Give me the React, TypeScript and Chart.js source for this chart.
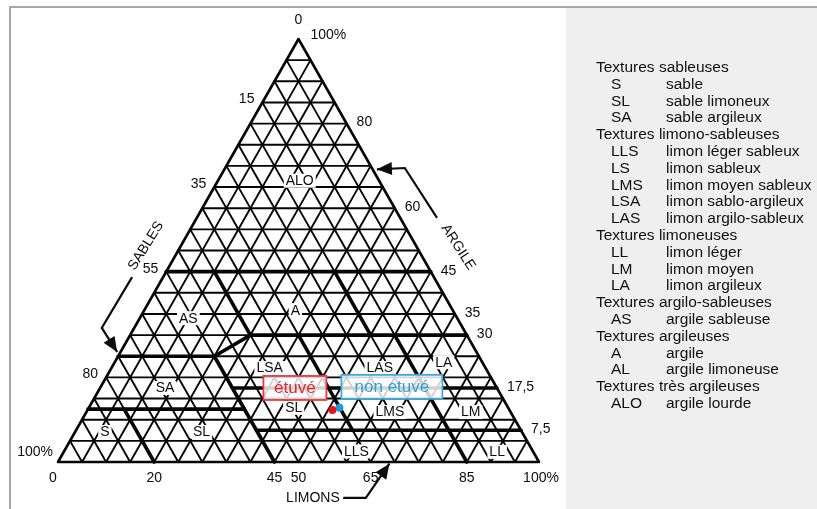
import React, { useEffect, useRef } from 'react';
import { Chart, registerables } from 'chart.js';

Chart.register(...registerables);

// ---- grid / axes ----
const GRID_STEPS = [5, 10, 15, 20, 25, 30, 35, 40, 45, 50, 55, 60, 65, 70, 75, 80, 85, 90, 95];

const SABLES_TICKS = [15, 35, 55, 80, 100];
const SABLES_TICK_LABELS = ['15', '35', '55', '80', '100%'];
const ARGILE_TICKS = [80, 60, 45, 35, 30, 17.5, 7.5];
const ARGILE_TICK_LABELS = ['80', '60', '45', '35', '30', '17,5', '7,5'];
const LIMONS_TICKS = [0, 20, 45, 50, 65, 85, 100];
const LIMONS_TICK_LABELS = ['0', '20', '45', '50', '65', '85', '100%'];

// ---- texture zones (label anchors in % sable / % argile) ----
const ZONE_CODES = ['ALO', 'AS', 'A', 'LSA', 'LAS', 'LA', 'SA', 'SL', 'LMS', 'LM', 'S', 'SL', 'LLS', 'LL'];
const ZONE_SABLE = [16.5, 55.9, 32.7, 44.9, 22, 8, 69, 44.6, 25.1, 8.3, 86.7, 66.6, 36.7, 7.5];
const ZONE_ARGILE = [66.5, 34, 35.9, 22.2, 22.2, 23.6, 17.5, 12.8, 11.8, 11.8, 7.1, 7.1, 2.5, 2.4];

// ---- zone boundaries (polylines in % sable / % argile) ----
const BOUNDARY_SABLE = [
  [55, 0], [45, 0], [75, 55, 45], [45, 45], [20, 20], [55, 55], [80, 80],
  [87.5, 55], [55, 0], [55, 0], [35, 35], [15, 15],
];
const BOUNDARY_ARGILE = [
  [45, 45], [30, 30], [25, 25, 30], [30, 45], [30, 45], [0, 25], [0, 12.5],
  [12.5, 12.5], [17.5, 17.5], [7.5, 7.5], [7.5, 30], [0, 30],
];

// ---- samples ----
const SAMPLE_NAMES = ['étuvé', 'non etuvé'];
const SAMPLE_SABLE = [36.8, 35.1];
const SAMPLE_ARGILE = [12.3, 12.8];
const SAMPLE_COLORS = ['#e8141c', '#1b9ad6'];

// ---- legend panel ----
const LEGEND_GROUPS = [
  'Textures sableuses',
  'Textures limono-sableuses',
  'Textures limoneuses',
  'Textures argilo-sableuses',
  'Textures argileuses',
  'Textures très argileuses',
];
const LEGEND_CODES = [
  ['S', 'SL', 'SA'],
  ['LLS', 'LS', 'LMS', 'LSA', 'LAS'],
  ['LL', 'LM', 'LA'],
  ['AS'],
  ['A', 'AL'],
  ['ALO'],
];
const LEGEND_NAMES = [
  ['sable', 'sable limoneux', 'sable argileux'],
  ['limon léger sableux', 'limon sableux', 'limon moyen sableux', 'limon sablo-argileux', 'limon argilo-sableux'],
  ['limon léger', 'limon moyen', 'limon argileux'],
  ['argile sableuse'],
  ['argile', 'argile limoneuse'],
  ['argile lourde'],
];

const FONT = '"Liberation Sans", Arial, Helvetica, sans-serif';

// ternary -> cartesian (x = limon + argile/2, y = argile)
const toXY = (s: number, c: number) => ({ x: 100 - s - c / 2, y: c });

export default function App() {
  const ref = useRef<HTMLCanvasElement>(null);

  useEffect(() => {
    const canvas = ref.current;
    if (!canvas) return;

    const seg = (pts: { x: number; y: number }[], w: number, order: number) => ({
      data: pts,
      showLine: true,
      borderColor: '#050505',
      borderWidth: w,
      pointRadius: 0,
      pointHoverRadius: 0,
      fill: false,
      order,
      clip: false,
      borderCapStyle: 'round',
      borderJoinStyle: 'round',
    });

    const datasets: any[] = [];
    SAMPLE_NAMES.forEach((name, i) => {
      datasets.push({
        label: name,
        data: [toXY(SAMPLE_SABLE[i], SAMPLE_ARGILE[i])],
        showLine: false,
        pointRadius: 4,
        pointBackgroundColor: SAMPLE_COLORS[i],
        pointBorderColor: SAMPLE_COLORS[i],
        pointBorderWidth: 0,
        order: 0,
        clip: false,
      });
    });
    BOUNDARY_SABLE.forEach((ss, i) => {
      datasets.push(seg(ss.map((s, j) => toXY(s, BOUNDARY_ARGILE[i][j])), 3.6, 1));
    });
    datasets.push(seg([toXY(100, 0), toXY(0, 0), toXY(0, 100), toXY(100, 0)], 2.6, 2));
    GRID_STEPS.forEach((k) => {
      datasets.push(seg([toXY(100 - k, k), toXY(0, k)], 1.9, 3));
      datasets.push(seg([toXY(k, 0), toXY(k, 100 - k)], 1.9, 3));
      datasets.push(seg([toXY(100 - k, 0), toXY(0, 100 - k)], 1.9, 3));
    });

    const decor = {
      id: 'decor',
      afterDatasetsDraw(chart: any) {
        const { ctx } = chart;
        const xs = chart.scales.x;
        const ys = chart.scales.y;
        const P = (X: number, c: number) => [xs.getPixelForValue(X), ys.getPixelForValue(c)];
        const Ps = (s: number, c: number) => {
          const q = toXY(s, c);
          return P(q.x, q.y);
        };
        ctx.save();
        ctx.fillStyle = '#0c0c0c';
        ctx.textBaseline = 'middle';

        // tick labels
        ctx.font = `14px ${FONT}`;
        const apex = P(50, 100);
        ctx.textAlign = 'center';
        ctx.fillText('0', apex[0] + 0, apex[1] - 19);
        ctx.textAlign = 'left';
        ctx.fillText('100%', apex[0] + 12, apex[1] - 4);

        ctx.textAlign = 'right';
        SABLES_TICKS.forEach((s, i) => {
          const p = P((100 - s) / 2, 100 - s);
          const last = i === SABLES_TICKS.length - 1;
          ctx.fillText(SABLES_TICK_LABELS[i], p[0] - (last ? 5 : 8), p[1] - (last ? 10 : 3));
        });
        ctx.textAlign = 'left';
        ARGILE_TICKS.forEach((c, i) => {
          const p = P(100 - c / 2, c);
          ctx.fillText(ARGILE_TICK_LABELS[i], p[0] + 10, p[1] - 1);
        });
        ctx.textAlign = 'center';
        LIMONS_TICKS.forEach((t, i) => {
          const p = P(t, 0);
          ctx.fillText(LIMONS_TICK_LABELS[i], p[0] + (t === 0 ? -5 : t === 100 ? 2 : 0), p[1] + 16);
        });

        // zone labels with white knock-out
        ctx.font = `14px ${FONT}`;
        ZONE_CODES.forEach((code, i) => {
          const p = Ps(ZONE_SABLE[i], ZONE_ARGILE[i]);
          const w = ctx.measureText(code).width;
          ctx.fillStyle = '#fff';
          ctx.fillRect(p[0] - w / 2 - 2, p[1] - 7, w + 4, 14);
          ctx.fillStyle = '#0c0c0c';
          ctx.fillText(code, p[0], p[1] + 0.5);
        });

        // axis titles
        ctx.font = `14px ${FONT}`;
        const drawRot = (txt: string, X: number, c: number, ang: number) => {
          const p = P(X, c);
          ctx.save();
          ctx.translate(p[0], p[1]);
          ctx.rotate((ang * Math.PI) / 180);
          ctx.textAlign = 'center';
          ctx.fillText(txt, 0, 0);
          ctx.restore();
        };
        drawRot('SABLES', 18.3, 51.1, -58);
        drawRot('ARGILE', 83.2, 50.8, 57);
        drawRot('LIMONS', 53, -8.5, 0);

        // arrows
        const arrow = (pts: number[][]) => {
          const px = pts.map((q) => P(q[0], q[1]));
          ctx.strokeStyle = '#0c0c0c';
          ctx.lineWidth = 2.2;
          ctx.beginPath();
          ctx.moveTo(px[0][0], px[0][1]);
          for (let i = 1; i < px.length; i++) ctx.lineTo(px[i][0], px[i][1]);
          ctx.stroke();
          const a = px[px.length - 2];
          const b = px[px.length - 1];
          const ang = Math.atan2(b[1] - a[1], b[0] - a[0]);
          const L = 15;
          const W = 6.5;
          ctx.fillStyle = '#0c0c0c';
          ctx.beginPath();
          ctx.moveTo(b[0], b[1]);
          ctx.lineTo(b[0] - L * Math.cos(ang) + W * Math.sin(ang), b[1] - L * Math.sin(ang) - W * Math.cos(ang));
          ctx.lineTo(b[0] - L * Math.cos(ang) - W * Math.sin(ang), b[1] - L * Math.sin(ang) + W * Math.cos(ang));
          ctx.closePath();
          ctx.fill();
        };
        arrow([[15.4, 43.7], [9.1, 31.7], [12.3, 26]]);
        arrow([[78.8, 57.7], [72.1, 69.5], [66.3, 69.2]]);
        arrow([[59.3, -8.5], [64, -8.5], [68.9, -0.4]]);

        // sample label boxes
        const boxes = [
          { w: 63, dx: -69, dy: -34 },
          { w: 101, dx: 2, dy: -33 },
        ];
        ctx.font = `17px ${FONT}`;
        SAMPLE_NAMES.forEach((name, i) => {
          const p = Ps(SAMPLE_SABLE[i], SAMPLE_ARGILE[i]);
          const b = boxes[i];
          const bx = p[0] + b.dx;
          const by = p[1] + b.dy;
          ctx.fillStyle = 'rgba(255,255,255,0.82)';
          ctx.fillRect(bx, by, b.w, 24);
          ctx.strokeStyle = i === 0 ? '#e53a3f' : '#3aa9dc';
          ctx.lineWidth = 1.8;
          ctx.strokeRect(bx, by, b.w, 24);
          ctx.fillStyle = i === 0 ? '#e2262c' : '#2f9fd8';
          ctx.textAlign = 'center';
          ctx.fillText(name, bx + b.w / 2, by + 12.5);
        });
        ctx.restore();
      },
    };

    const chart = new Chart(canvas, {
      type: 'scatter',
      data: { datasets },
      options: {
        animation: false,
        responsive: false,
        maintainAspectRatio: false,
        events: [],
        layout: { padding: { left: 58, right: 278, top: 39, bottom: 47 } },
        plugins: { legend: { display: false }, tooltip: { enabled: false } },
        scales: {
          x: { type: 'linear', min: 0, max: 100, display: false },
          y: { type: 'linear', min: 0, max: 100, display: false },
        },
      },
      plugins: [decor],
    } as any);

    return () => chart.destroy();
  }, []);

  const rows: { kind: 'h' | 'i'; code?: string; text: string }[] = [];
  LEGEND_GROUPS.forEach((g, gi) => {
    rows.push({ kind: 'h', text: g });
    LEGEND_CODES[gi].forEach((c, ci) => rows.push({ kind: 'i', code: c, text: LEGEND_NAMES[gi][ci] }));
  });

  return (
    <div style={{ position: 'fixed', left: 0, top: 0, width: 817, height: 509, background: '#fff', overflow: 'hidden' }}>
      <div
        style={{
          position: 'absolute',
          left: 9,
          top: 6,
          width: 808,
          height: 503,
          borderTop: '2px solid #a8a8a8',
          borderLeft: '2px solid #a8a8a8',
        }}
      />
      <div style={{ position: 'absolute', left: 566, top: 8, width: 251, height: 501, background: '#efefef' }} />
      <canvas ref={ref} width={817} height={509} style={{ position: 'absolute', left: 0, top: 0, width: 817, height: 509 }} />
      <div style={{ position: 'absolute', left: 0, top: 0, fontFamily: FONT, fontSize: 15.5, color: '#111' }}>
        {rows.map((r, i) => {
          const top = 67 + i * 16.8 - 9;
          if (r.kind === 'h') {
            return (
              <div key={i} style={{ position: 'absolute', left: 596, top, height: 18, lineHeight: '18px', whiteSpace: 'nowrap' }}>
                {r.text}
              </div>
            );
          }
          return (
            <React.Fragment key={i}>
              <div style={{ position: 'absolute', left: 611, top, height: 18, lineHeight: '18px', whiteSpace: 'nowrap' }}>{r.code}</div>
              <div style={{ position: 'absolute', left: 666, top, height: 18, lineHeight: '18px', whiteSpace: 'nowrap' }}>{r.text}</div>
            </React.Fragment>
          );
        })}
      </div>
    </div>
  );
}
